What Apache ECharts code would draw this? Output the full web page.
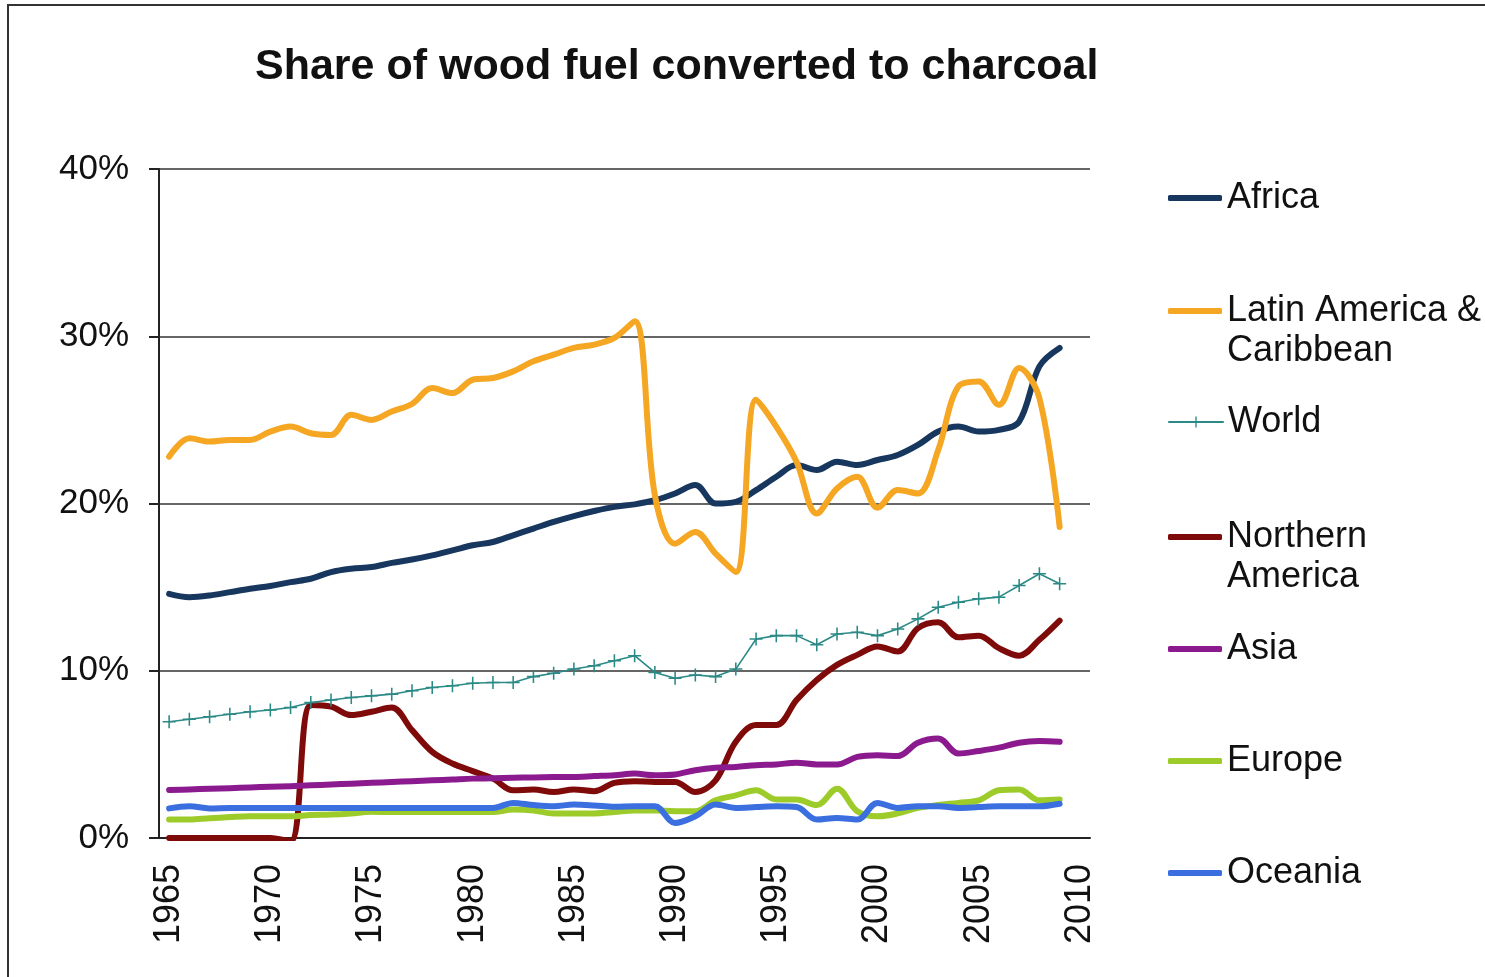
<!DOCTYPE html>
<html>
<head>
<meta charset="utf-8">
<script src="https://cdn.jsdelivr.net/npm/echarts@6/dist/echarts.min.js"></script>
<style>
  html, body { margin: 0; padding: 0; background: #fff; }
  #chart { width: 1485px; height: 977px; }
</style>
</head>
<body>
<div id="chart"></div>
<script>
  // years on the category axis (2010 has no data)
  const years = [];
  for (let y = 1965; y <= 2010; y++) years.push(String(y));

  const africa = [14.6, 14.4, 14.5, 14.7, 14.9, 15.07, 15.3, 15.5, 15.9, 16.1,
    16.2, 16.45, 16.65, 16.9, 17.2, 17.5, 17.7, 18.1, 18.5, 18.9,
    19.25, 19.55, 19.8, 19.95, 20.2, 20.6, 21.1, 20.0, 20.1, 20.8,
    21.6, 22.3, 22.0, 22.5, 22.3, 22.6, 22.9, 23.5, 24.3, 24.6,
    24.3, 24.4, 24.9, 28.2, 29.3];
  const latinAmerica = [22.8, 23.9, 23.7, 23.8, 23.8, 24.3, 24.6, 24.2, 24.1, 25.3,
    25.0, 25.5, 25.95, 26.9, 26.6, 27.4, 27.5, 27.9, 28.5, 28.9,
    29.3, 29.5, 29.9, 30.9, 20.5, 17.6, 18.3, 17.0, 15.9, 26.2,
    24.6, 22.5, 19.4, 20.9, 21.6, 19.75, 20.8, 20.6, 23.2, 27.0,
    27.3, 25.9, 28.1, 26.3, 18.6];
  const world = [6.95, 7.1, 7.25, 7.4, 7.55, 7.65, 7.8, 8.1, 8.25, 8.4,
    8.5, 8.6, 8.8, 9.0, 9.1, 9.25, 9.3, 9.3, 9.65, 9.85,
    10.1, 10.3, 10.6, 10.9, 9.9, 9.55, 9.75, 9.65, 10.1, 11.9,
    12.1, 12.1, 11.55, 12.2, 12.3, 12.1, 12.5, 13.1, 13.8, 14.1,
    14.3, 14.4, 15.1, 15.8, 15.2];
  const northernAmerica = [0, 0, 0, 0, 0, 0, -0.2, 7.95, 7.85, 7.35,
    7.55, 7.8, 6.45, 5.15, 4.45, 4.0, 3.55, 2.85, 2.9, 2.75,
    2.9, 2.8, 3.3, 3.4, 3.35, 3.35, 2.75, 3.45, 5.75, 6.75,
    6.75, 8.25, 9.45, 10.35, 10.95, 11.45, 11.15, 12.55, 12.9, 12.0,
    12.1, 11.35, 10.9, 11.85, 13.0];
  const asia = [2.87, 2.9, 2.95, 2.98, 3.02, 3.07, 3.1, 3.15, 3.2, 3.25,
    3.3, 3.35, 3.4, 3.45, 3.5, 3.55, 3.57, 3.6, 3.62, 3.64,
    3.65, 3.7, 3.75, 3.85, 3.75, 3.8, 4.05, 4.2, 4.25, 4.35,
    4.4, 4.5, 4.4, 4.4, 4.85, 4.95, 4.9, 5.7, 5.95, 5.05,
    5.2, 5.4, 5.7, 5.8, 5.75];
  const europe = [1.1, 1.1, 1.18, 1.25, 1.3, 1.3, 1.3, 1.37, 1.4, 1.47,
    1.57, 1.55, 1.55, 1.55, 1.55, 1.55, 1.55, 1.7, 1.65, 1.47,
    1.47, 1.47, 1.55, 1.65, 1.65, 1.6, 1.6, 2.25, 2.55, 2.85,
    2.3, 2.3, 1.97, 2.95, 1.6, 1.3, 1.47, 1.8, 1.97, 2.1,
    2.25, 2.85, 2.9, 2.25, 2.3];
  const oceania = [1.77, 1.9, 1.77, 1.8, 1.8, 1.8, 1.8, 1.8, 1.8, 1.8,
    1.8, 1.8, 1.8, 1.8, 1.8, 1.8, 1.8, 2.1, 1.97, 1.9,
    2.0, 1.95, 1.87, 1.9, 1.9, 0.9, 1.3, 2.0, 1.8, 1.85,
    1.9, 1.85, 1.1, 1.2, 1.1, 2.1, 1.8, 1.9, 1.9, 1.8,
    1.85, 1.9, 1.9, 1.9, 2.05];

  const FONT = '"Liberation Sans", Arial, sans-serif';
  const plus = 'path://M0,4.4H10V5.6H0Z M4.4,0H5.6V10H4.4Z';

  const seriesDefs = [
    { name: 'Africa', data: africa, color: '#17375e' },
    { name: 'Latin America & Caribbean', data: latinAmerica, color: '#f5a623' },
    { name: 'World', data: world, color: '#2b8a86' },
    { name: 'Northern America', data: northernAmerica, color: '#7f0a0a' },
    { name: 'Asia', data: asia, color: '#8b1a8f' },
    { name: 'Europe', data: europe, color: '#9ccb2a' },
    { name: 'Oceania', data: oceania, color: '#3b6fe0' }
  ];
  // y of the first text line of each legend entry
  const legendRows = [198, 311, 422, 537, 649, 761, 873];
  // leading blank line keeps the icon level with the first line
  const legendLabels = {
    'Latin America & Caribbean': ' \nLatin America &\nCaribbean',
    'Northern America': ' \nNorthern\nAmerica'
  };

  const chart = echarts.init(document.getElementById('chart'));

  const option = {
    animation: false,
    textStyle: { fontFamily: FONT },
    graphic: [{
      type: 'rect',
      shape: { x: 8, y: 5, width: 1700, height: 1200 },
      style: { fill: 'none', stroke: '#333', lineWidth: 2 },
      z: -1
    }],
    title: {
      text: 'Share of wood fuel converted to charcoal',
      left: 250,
      top: 41,
      textStyle: { fontFamily: FONT, fontSize: 43, fontWeight: 'bold', color: '#111' }
    },
    legend: seriesDefs.map((s, i) => {
      const lines = legendLabels[s.name] ? 3 : 1;
      const isWorld = s.name === 'World';
      return {
        data: [s.name],
        orient: 'vertical',
        left: 1168,
        top: legendRows[i] - lines * 20,
        padding: 0,
        itemWidth: 54,
        itemHeight: isWorld ? 14 : 6,
        icon: isWorld ? undefined : 'roundRect',
        selectedMode: false,
        formatter: n => legendLabels[n] || n,
        textStyle: {
          fontFamily: FONT,
          fontSize: 36,
          color: '#111',
          lineHeight: 40
        }
      };
    }),
    grid: {
      left: 159,
      right: 395,
      top: 169,
      bottom: 139
    },
    xAxis: {
      type: 'category',
      data: years,
      boundaryGap: true,
      axisLine: { lineStyle: { color: '#222', width: 2 } },
      axisTick: { interval: 0, length: 9, lineStyle: { color: '#222', width: 2 } },
      axisLabel: {
        interval: 4,
        rotate: 90,
        margin: 26,
        fontFamily: FONT,
        fontSize: 36,
        color: '#111'
      }
    },
    yAxis: {
      type: 'value',
      min: 0,
      max: 40,
      interval: 10,
      axisLine: { show: true, lineStyle: { color: '#222', width: 2 } },
      axisTick: { show: true, length: 10, lineStyle: { color: '#222', width: 2 } },
      splitLine: { lineStyle: { color: '#333', width: 1.5 } },
      axisLabel: {
        formatter: '{value}%',
        margin: 30,
        fontFamily: FONT,
        fontSize: 35,
        color: '#111'
      }
    },
    series: seriesDefs.map(s => {
      const isWorld = s.name === 'World';
      return {
        name: s.name,
        type: 'line',
        data: s.data,
        smooth: isWorld ? false : 0.35,
        color: s.color,
        showSymbol: isWorld,
        symbol: isWorld ? plus : 'none',
        symbolSize: 13,
        itemStyle: { color: s.color },
        lineStyle: { color: s.color, width: isWorld ? 1.6 : 6, cap: 'round', join: 'round' },
        z: isWorld ? 3 : 2
      };
    })
  };

  chart.setOption(option);
  window.addEventListener('resize', () => {
    chart.resize();
  });
</script>
</body>
</html>
